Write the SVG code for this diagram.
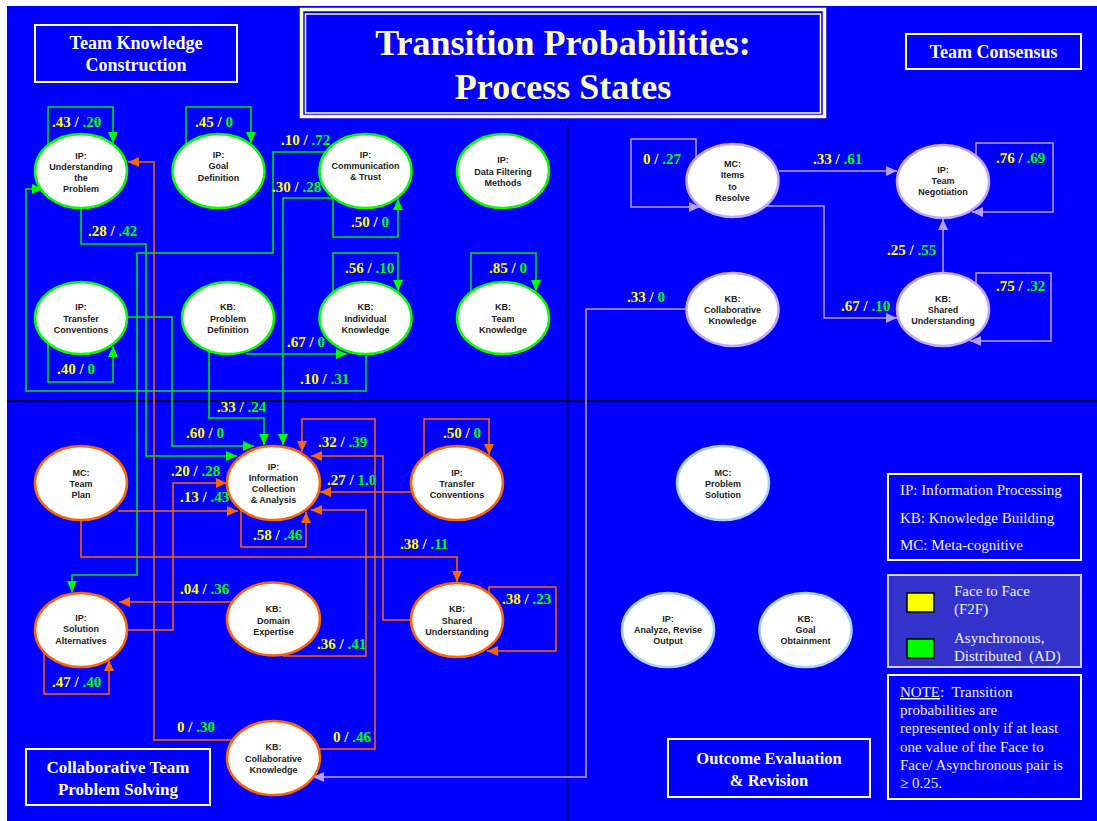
<svg xmlns="http://www.w3.org/2000/svg" width="1097" height="821" viewBox="0 0 1097 821">
<defs>
<style>
.lbl{font-family:"Liberation Serif","Times New Roman",serif;font-weight:bold;font-size:15px;fill:#ffffff}
.yl{fill:#ffff00}.gn{fill:#00ff00}
.nt{font-family:"Liberation Sans",Arial,sans-serif;font-weight:bold;font-size:9px;fill:#222222;text-anchor:middle}
.eg{fill:#ffffff;stroke:#00ff00;stroke-width:2.5}
.eo{fill:#ffffff;stroke:#ff6600;stroke-width:2.5}
.ep{fill:#ffffff;stroke:#c4a8ff;stroke-width:2.5}
.eb{fill:#ffffff;stroke:#a8d0ff;stroke-width:2.5}
.cg{fill:none;stroke:#00e600;stroke-width:1.5;marker-end:url(#ag)}
.co{fill:none;stroke:#ff6600;stroke-width:1.5;marker-end:url(#ao)}
.cp{fill:none;stroke:#bb9cff;stroke-width:1.5;marker-end:url(#ap)}
.hd{font-family:"Liberation Serif","Times New Roman",serif;font-weight:bold;fill:#ffffff;text-anchor:middle}
.lg{font-family:"Liberation Serif","Times New Roman",serif;font-size:15px;fill:#f0f0ff}
.box{fill:#0000ff;stroke:#ffffff;stroke-width:2}
</style>
<marker id="ag" viewBox="0 0 11 10" refX="11" refY="5" markerWidth="11" markerHeight="10" markerUnits="userSpaceOnUse" orient="auto"><path d="M0,0 L11,5 L0,10 z" fill="#00ff00"/></marker>
<marker id="ao" viewBox="0 0 11 10" refX="11" refY="5" markerWidth="11" markerHeight="10" markerUnits="userSpaceOnUse" orient="auto"><path d="M0,0 L11,5 L0,10 z" fill="#ff6600"/></marker>
<marker id="ap" viewBox="0 0 11 10" refX="11" refY="5" markerWidth="11" markerHeight="10" markerUnits="userSpaceOnUse" orient="auto"><path d="M0,0 L11,5 L0,10 z" fill="#b89cff"/></marker>
</defs>

<rect x="0" y="0" width="1097" height="821" fill="#ffffff"/>
<rect x="7" y="6" width="1090" height="815" fill="#0000ff"/>

<g id="dividers" stroke="#000000" stroke-width="1.5">
<line x1="7" y1="401" x2="1097" y2="401"/>
<line x1="567.5" y1="126" x2="567.5" y2="821"/>
</g>

<g id="title">
<rect x="301.5" y="9.5" width="523" height="107" fill="#0000ff" stroke="#ffffcc" stroke-width="3.5"/>
<rect x="305.5" y="14" width="515" height="99" fill="none" stroke="#ffffcc" stroke-width="1.5"/>
<text x="563" y="55" font-family="'Liberation Serif','Times New Roman',serif" font-weight="bold" font-size="36" fill="#ffffcc" text-anchor="middle">Transition Probabilities:</text>
<text x="563" y="99" font-family="'Liberation Serif','Times New Roman',serif" font-weight="bold" font-size="36" fill="#ffffcc" text-anchor="middle">Process States</text>
</g>

<g id="region-labels">
<rect class="box" x="35" y="25" width="202" height="57"/>
<text class="hd" x="136" y="49" font-size="18">Team Knowledge</text>
<text class="hd" x="136" y="71" font-size="18">Construction</text>
<rect class="box" x="906" y="34" width="175" height="35"/>
<text class="hd" x="993.5" y="58" font-size="18">Team Consensus</text>
<rect class="box" x="26" y="749" width="184" height="56"/>
<text class="hd" x="118" y="773" font-size="17">Collaborative Team</text>
<text class="hd" x="118" y="795" font-size="17">Problem Solving</text>
<rect class="box" x="668" y="739" width="202" height="58"/>
<text class="hd" x="769" y="764" font-size="16.5">Outcome Evaluation</text>
<text class="hd" x="769" y="786" font-size="16.5">&amp; Revision</text>
</g>

<g id="legend">
<rect class="box" x="888" y="474" width="193" height="86"/>
<text class="lg" x="900" y="495">IP: Information Processing</text>
<text class="lg" x="900" y="523">KB: Knowledge Building</text>
<text class="lg" x="900" y="550">MC: Meta-cognitive</text>
<rect x="888" y="575" width="193" height="92" fill="#3333cc" stroke="#ccccff" stroke-width="2"/>
<rect x="907" y="593" width="27" height="19" fill="#ffff00" stroke="#000000" stroke-width="1.5"/>
<rect x="907" y="639" width="27" height="19" fill="#00ff00" stroke="#000000" stroke-width="1.5"/>
<text class="lg" x="954" y="596">Face to Face</text>
<text class="lg" x="954" y="614">(F2F)</text>
<text class="lg" x="954" y="643">Asynchronous,</text>
<text class="lg" x="954" y="661" xml:space="preserve">Distributed  (AD)</text>
<rect class="box" x="888" y="675" width="193" height="124"/>
<text class="lg" x="900" y="697" xml:space="preserve"><tspan text-decoration="underline">NOTE</tspan>:  Transition</text>
<text class="lg" x="900" y="715">probabilities are</text>
<text class="lg" x="900" y="733">represented only if at least</text>
<text class="lg" x="900" y="752">one value of the Face to</text>
<text class="lg" x="900" y="770">Face/ Asynchronous pair is</text>
<text class="lg" x="900" y="788">≥ 0.25.</text>
</g>

<g id="connectors">
<!-- green: Team Knowledge Construction -->
<path class="cg" d="M48,148 L48,107 L113,107 L113,143"/>
<path class="cg" d="M186,148 L186,107 L251,107 L251,143"/>
<path class="cg" d="M81,205 L81,244 L146,244 L146,456 L237,456"/>
<path class="cg" d="M330,152 L273,152 L273,253 L137,253 L137,575 L72,575 L72,592"/>
<path class="cg" d="M336,198 L283,198 L283,445"/>
<path class="cg" d="M333,194 L333,237 L398,237 L398,199"/>
<path class="cg" d="M333,296 L333,253 L398,253 L398,291"/>
<path class="cg" d="M471,296 L471,253 L536,253 L536,291"/>
<path class="cg" d="M48,340 L48,382 L113,382 L113,346"/>
<path class="cg" d="M124,317 L172,317 L172,446 L254,446"/>
<path class="cg" d="M246,354 L347,354"/>
<path class="cg" d="M209,350 L209,418 L264,418 L264,445"/>
<path class="cg" d="M366,351 L366,391 L26,391 L26,189 L43,189"/>
<!-- orange: Collaborative Team Problem Solving -->
<path class="co" d="M236,740 L154,740 L154,162 L128,162"/>
<path class="co" d="M316,749 L375,749 L375,419 L302,419 L302,452"/>
<path class="co" d="M241,506 L241,547 L306,547 L306,512"/>
<path class="co" d="M414,620 L383,620 L383,456 L311,456"/>
<path class="co" d="M414,492 L320,492"/>
<path class="co" d="M424,460 L424,419 L489,419 L489,455"/>
<path class="co" d="M81,517 L81,557 L457,557 L457,582"/>
<path class="co" d="M118,511 L238,511"/>
<path class="co" d="M124,630 L173,630 L173,483 L227,483"/>
<path class="co" d="M236,602 L119,602"/>
<path class="co" d="M283,656 L366,656 L366,510 L311,510"/>
<path class="co" d="M44,650 L44,694 L109,694 L109,660"/>
<path class="co" d="M489,600 L489,587 L556,587 L556,651 L487,651"/>
<!-- purple: Team Consensus -->
<path class="cp" d="M696,160 L696,139 L631,139 L631,207 L700,207"/>
<path class="cp" d="M779,171 L897,171"/>
<path class="cp" d="M763,206 L824,206 L824,318 L897,318"/>
<path class="cp" d="M976,155 L976,143 L1053,143 L1053,212 L972,212"/>
<path class="cp" d="M943,275 L943,219"/>
<path class="cp" d="M976,285 L976,273 L1051,273 L1051,341 L970,341"/>
<path class="cp" d="M690,309 L586,309 L586,777 L313,777"/>

<g id="labels" class="lbl">
<text x="52" y="127"><tspan class="yl">.43</tspan> / <tspan class="gn">.20</tspan></text>
<text x="195" y="127"><tspan class="yl">.45</tspan> / <tspan class="gn">0</tspan></text>
<text x="88" y="236"><tspan class="yl">.28</tspan> / <tspan class="gn">.42</tspan></text>
<text x="281" y="145"><tspan class="yl">.10</tspan> / <tspan class="gn">.72</tspan></text>
<text x="272" y="192"><tspan class="yl">.30</tspan> / <tspan class="gn">.28</tspan></text>
<text x="351" y="227"><tspan class="yl">.50</tspan> / <tspan class="gn">0</tspan></text>
<text x="345" y="273"><tspan class="yl">.56</tspan> / <tspan class="gn">.10</tspan></text>
<text x="489" y="273"><tspan class="yl">.85</tspan> / <tspan class="gn">0</tspan></text>
<text x="57" y="374"><tspan class="yl">.40</tspan> / <tspan class="gn">0</tspan></text>
<text x="186" y="438"><tspan class="yl">.60</tspan> / <tspan class="gn">0</tspan></text>
<text x="287" y="347"><tspan class="yl">.67</tspan> / <tspan class="gn">0</tspan></text>
<text x="217" y="412"><tspan class="yl">.33</tspan> / <tspan class="gn">.24</tspan></text>
<text x="300" y="384"><tspan class="yl">.10</tspan> / <tspan class="gn">.31</tspan></text>
<text x="177" y="732"><tspan class="yl">0</tspan> / <tspan class="gn">.30</tspan></text>
<text x="333" y="742"><tspan class="yl">0</tspan> / <tspan class="gn">.46</tspan></text>
<text x="253" y="540"><tspan class="yl">.58</tspan> / <tspan class="gn">.46</tspan></text>
<text x="318" y="447"><tspan class="yl">.32</tspan> / <tspan class="gn">.39</tspan></text>
<text x="327" y="485"><tspan class="yl">.27</tspan> / <tspan class="gn">1.0</tspan></text>
<text x="443" y="438"><tspan class="yl">.50</tspan> / <tspan class="gn">0</tspan></text>
<text x="400" y="549"><tspan class="yl">.38</tspan> / <tspan class="gn">.11</tspan></text>
<text x="180" y="502"><tspan class="yl">.13</tspan> / <tspan class="gn">.43</tspan></text>
<text x="171" y="476"><tspan class="yl">.20</tspan> / <tspan class="gn">.28</tspan></text>
<text x="180" y="594"><tspan class="yl">.04</tspan> / <tspan class="gn">.36</tspan></text>
<text x="317" y="649"><tspan class="yl">.36</tspan> / <tspan class="gn">.41</tspan></text>
<text x="52" y="687"><tspan class="yl">.47</tspan> / <tspan class="gn">.40</tspan></text>
<text x="502" y="604"><tspan class="yl">.38</tspan> / <tspan class="gn">.23</tspan></text>
<text x="643" y="164"><tspan class="yl">0</tspan> / <tspan class="gn">.27</tspan></text>
<text x="813" y="164"><tspan class="yl">.33</tspan> / <tspan class="gn">.61</tspan></text>
<text x="841" y="311"><tspan class="yl">.67</tspan> / <tspan class="gn">.10</tspan></text>
<text x="996" y="163"><tspan class="yl">.76</tspan> / <tspan class="gn">.69</tspan></text>
<text x="887" y="255"><tspan class="yl">.25</tspan> / <tspan class="gn">.55</tspan></text>
<text x="996" y="291"><tspan class="yl">.75</tspan> / <tspan class="gn">.32</tspan></text>
<text x="627" y="302"><tspan class="yl">.33</tspan> / <tspan class="gn">0</tspan></text>
</g>
</g>

<!-- Team Knowledge Construction nodes -->
<g id="tkc-understanding-problem"><ellipse class="eg" cx="81" cy="171" rx="46" ry="37"/>
<text class="nt" x="81" y="159">IP:</text><text class="nt" x="81" y="170">Understanding</text><text class="nt" x="81" y="181">the</text><text class="nt" x="81" y="192">Problem</text></g>
<g id="tkc-goal-definition"><ellipse class="eg" cx="218.5" cy="171" rx="46" ry="37"/>
<text class="nt" x="218.5" y="158">IP:</text><text class="nt" x="218.5" y="169">Goal</text><text class="nt" x="218.5" y="180.5">Definition</text></g>
<g id="tkc-communication-trust"><ellipse class="eg" cx="365.5" cy="171" rx="46" ry="37"/>
<text class="nt" x="365.5" y="158">IP:</text><text class="nt" x="365.5" y="169">Communication</text><text class="nt" x="365.5" y="180">&amp; Trust</text></g>
<g id="tkc-data-filtering"><ellipse class="eg" cx="503" cy="171" rx="46" ry="37"/>
<text class="nt" x="503" y="163">IP:</text><text class="nt" x="503" y="174.5">Data Filtering</text><text class="nt" x="503" y="186">Methods</text></g>
<g id="tkc-transfer-conventions"><ellipse class="eg" cx="81" cy="318" rx="46" ry="36"/>
<text class="nt" x="81" y="310">IP:</text><text class="nt" x="81" y="321.5">Transfer</text><text class="nt" x="81" y="333">Conventions</text></g>
<g id="tkc-problem-definition"><ellipse class="eg" cx="228" cy="318" rx="46" ry="36"/>
<text class="nt" x="228" y="310">KB:</text><text class="nt" x="228" y="321.5">Problem</text><text class="nt" x="228" y="333">Definition</text></g>
<g id="tkc-individual-knowledge"><ellipse class="eg" cx="365.5" cy="318" rx="46" ry="36"/>
<text class="nt" x="365.5" y="310">KB:</text><text class="nt" x="365.5" y="321.5">Individual</text><text class="nt" x="365.5" y="333">Knowledge</text></g>
<g id="tkc-team-knowledge"><ellipse class="eg" cx="503" cy="318" rx="46" ry="36"/>
<text class="nt" x="503" y="310">KB:</text><text class="nt" x="503" y="321.5">Team</text><text class="nt" x="503" y="333">Knowledge</text></g>

<!-- Team Consensus nodes -->
<g id="tc-items-to-resolve"><ellipse class="ep" cx="732.5" cy="180.5" rx="46" ry="36.5"/>
<text class="nt" x="732.5" y="166.5">MC:</text><text class="nt" x="732.5" y="178">Items</text><text class="nt" x="732.5" y="189.5">to</text><text class="nt" x="732.5" y="201">Resolve</text></g>
<g id="tc-team-negotiation"><ellipse class="ep" cx="943" cy="181.5" rx="46" ry="36.5"/>
<text class="nt" x="943" y="173">IP:</text><text class="nt" x="943" y="184">Team</text><text class="nt" x="943" y="195">Negotiation</text></g>
<g id="tc-collaborative-knowledge"><ellipse class="ep" cx="732.5" cy="309.5" rx="46" ry="36.5"/>
<text class="nt" x="732.5" y="302">KB:</text><text class="nt" x="732.5" y="313">Collaborative</text><text class="nt" x="732.5" y="324">Knowledge</text></g>
<g id="tc-shared-understanding"><ellipse class="ep" cx="943" cy="309.5" rx="46" ry="36.5"/>
<text class="nt" x="943" y="302">KB:</text><text class="nt" x="943" y="313">Shared</text><text class="nt" x="943" y="324">Understanding</text></g>

<!-- Collaborative Team Problem Solving nodes -->
<g id="ctps-info-collection"><ellipse class="eo" cx="273.5" cy="483" rx="46.5" ry="37"/>
<text class="nt" x="273.5" y="470">IP:</text><text class="nt" x="273.5" y="481">Information</text><text class="nt" x="273.5" y="492">Collection</text><text class="nt" x="273.5" y="503">&amp; Analysis</text></g>
<g id="ctps-transfer-conventions"><ellipse class="eo" cx="457" cy="483" rx="46" ry="37"/>
<text class="nt" x="457" y="476">IP:</text><text class="nt" x="457" y="487">Transfer</text><text class="nt" x="457" y="498">Conventions</text></g>
<g id="ctps-team-plan"><ellipse class="eo" cx="81" cy="483" rx="46" ry="37"/>
<text class="nt" x="81" y="476">MC:</text><text class="nt" x="81" y="487">Team</text><text class="nt" x="81" y="498">Plan</text></g>
<g id="ctps-domain-expertise"><ellipse class="eo" cx="273.5" cy="619" rx="46.5" ry="36.5"/>
<text class="nt" x="273.5" y="612">KB:</text><text class="nt" x="273.5" y="623.5">Domain</text><text class="nt" x="273.5" y="635">Expertise</text></g>
<g id="ctps-shared-understanding"><ellipse class="eo" cx="457" cy="620" rx="46" ry="37"/>
<text class="nt" x="457" y="612">KB:</text><text class="nt" x="457" y="623.5">Shared</text><text class="nt" x="457" y="635">Understanding</text></g>
<g id="ctps-solution-alternatives"><ellipse class="eo" cx="81" cy="630" rx="46" ry="37"/>
<text class="nt" x="81" y="621">IP:</text><text class="nt" x="81" y="632">Solution</text><text class="nt" x="81" y="643.5">Alternatives</text></g>
<g id="ctps-collaborative-knowledge"><ellipse class="eo" cx="273.5" cy="758" rx="46.5" ry="37"/>
<text class="nt" x="273.5" y="750">KB:</text><text class="nt" x="273.5" y="761.5">Collaborative</text><text class="nt" x="273.5" y="772.5">Knowledge</text></g>

<!-- Outcome Evaluation & Revision nodes -->
<g id="oer-problem-solution"><ellipse class="eb" cx="723" cy="483" rx="46" ry="37"/>
<text class="nt" x="723" y="476">MC:</text><text class="nt" x="723" y="487">Problem</text><text class="nt" x="723" y="498">Solution</text></g>
<g id="oer-analyze-revise"><ellipse class="eb" cx="668" cy="630" rx="46" ry="37"/>
<text class="nt" x="668" y="622">IP:</text><text class="nt" x="668" y="633">Analyze, Revise</text><text class="nt" x="668" y="644">Output</text></g>
<g id="oer-goal-obtainment"><ellipse class="eb" cx="805.5" cy="630" rx="46" ry="37"/>
<text class="nt" x="805.5" y="622">KB:</text><text class="nt" x="805.5" y="633">Goal</text><text class="nt" x="805.5" y="644">Obtainment</text></g>
</svg>
